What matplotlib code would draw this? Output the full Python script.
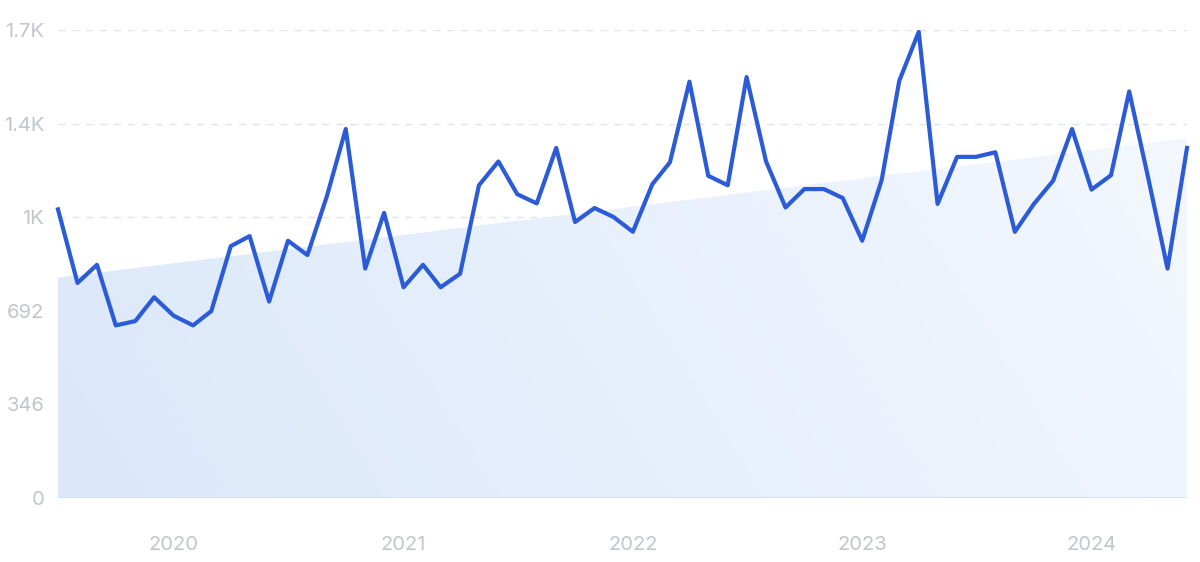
import pandas as pd
import matplotlib.pyplot as plt
import numpy as np
from matplotlib.colors import LinearSegmentedColormap

# monthly values, Jul 2019 - Jun 2024
months = pd.date_range("2019-07-01", periods=60, freq="MS")
values = [1067, 795, 862, 638, 654, 742, 674, 638, 691, 931,
          968, 726, 951, 898, 1116, 1364, 848, 1054, 779, 862,
          779, 829, 1156, 1244, 1123, 1089, 1294, 1020, 1072, 1039,
          984, 1160, 1241, 1539, 1191, 1156, 1556, 1244, 1074, 1142,
          1142, 1109, 951, 1175, 1542, 1723, 1087, 1261, 1261, 1278,
          984, 1086, 1173, 1364, 1140, 1193, 1503, 1175, 848, 1294]

# trend band start / end
trend_dates = [months[0], months[-1]]
trend_values = [815, 1330]

yticks = [0, 346, 692, 1038, 1384, 1730]
ylabels = ["0", "346", "692", "1K", "1.4K", "1.7K"]
years = ["2020", "2021", "2022", "2023", "2024"]

plt.rcParams['font.family'] = ['Inter', 'DejaVu Sans']

fig = plt.figure(figsize=(12, 5.62), dpi=100)
ax = fig.add_axes([58 / 1200, 64 / 562, 1129 / 1200, 468 / 562])

# gradient fill under trend line
poly = ax.fill_between(trend_dates, trend_values, 0, color="none", lw=0)
cmap = LinearSegmentedColormap.from_list("bg", ["#dbe8fa", "#f5f8fe"])
gx, gy = np.meshgrid(np.linspace(0, 1, 200), np.linspace(0, 1, 100))
grad = gx * 0.8 + (1 - gy) * 0.2
x0, x1 = ax.convert_xunits(months[0]), ax.convert_xunits(months[-1])
img = ax.imshow(grad, cmap=cmap, aspect="auto", origin="upper",
                extent=[x0, x1, 0, 1730], zorder=1)
img.set_clip_path(poly.get_paths()[0], transform=ax.transData)

ax.axhline(0, color="#cfdff5", lw=1.2, zorder=2)

ax.plot(months, values, color="#2b5bd6", lw=3, zorder=4,
        solid_joinstyle="round", clip_on=False)

ax.set_xlim(months[0], months[-1])
ax.set_ylim(0, 1730)

ax.set_yticks(yticks)
ax.set_yticklabels(ylabels)
for y in yticks[1:]:
    ax.axhline(y, color="#dfe4ec", lw=1, ls=(0, (5, 5)), zorder=0.5)

ax.set_xticks([pd.Timestamp(y + "-01-01") for y in years])
ax.set_xticklabels(years)

ax.tick_params(axis="both", length=0, labelsize=14.5, colors="#c2c5cc")
ax.tick_params(axis="y", pad=10)
ax.tick_params(axis="x", pad=27)
for s in ax.spines.values():
    s.set_visible(False)

plt.savefig("out.png", dpi=100)
